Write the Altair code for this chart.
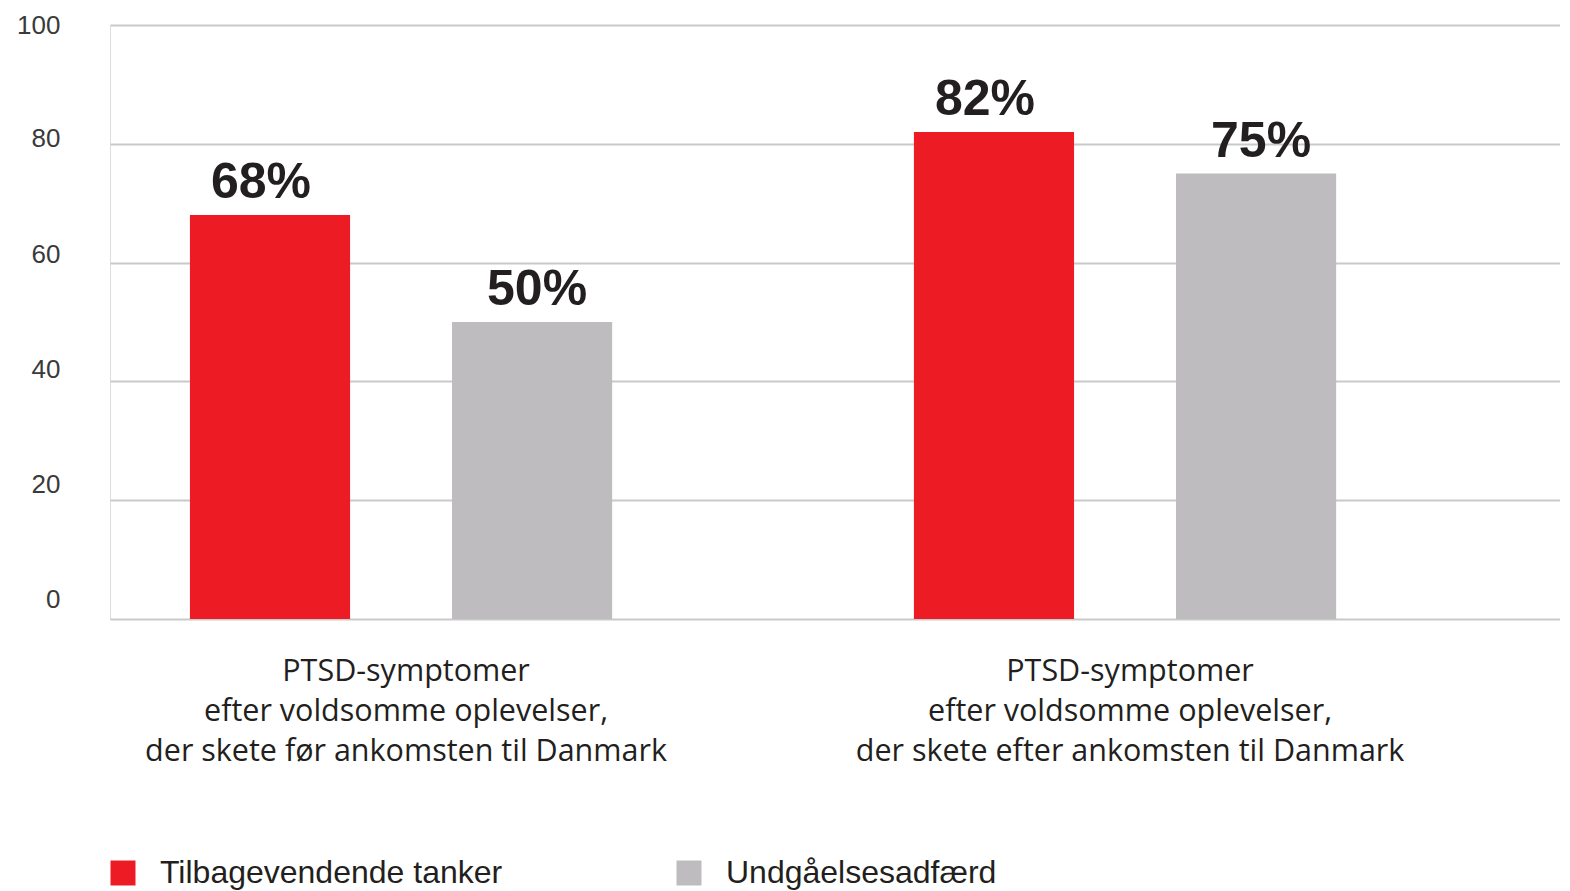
import altair as alt
import pandas as pd

groups = ["PTSD-symptomer|efter voldsomme oplevelser,|der skete før ankomsten til Danmark",
          "PTSD-symptomer|efter voldsomme oplevelser,|der skete efter ankomsten til Danmark"]
series = ["Tilbagevendende tanker", "Undgåelsesadfærd"]
values_red = [68, 82]
values_gray = [50, 75]
colors = ["#ED1C24", "#BEBCBF"]
y_ticks = [0, 20, 40, 60, 80, 100]

rows = []
for g, r, gr in zip(groups, values_red, values_gray):
    rows.append({"group": g, "serie": series[0], "value": r})
    rows.append({"group": g, "serie": series[1], "value": gr})
df = pd.DataFrame(rows)
df["label"] = df["value"].astype(str) + "%"

x_enc = alt.X("group:N", sort=groups, title=None,
              scale=alt.Scale(paddingInner=0.196, paddingOuter=0.0994, align=0),
              axis=alt.Axis(labelExpr="split(datum.label, '|')", labelAngle=0,
                            labelFont="Open Sans", labelFontSize=30.5,
                            labelColor="#231F20", labelLineHeight=40,
                            labelBaseline="top", labelPadding=37, labelOffset=5,
                            ticks=False, tickSize=0, domain=False, grid=False,
                            labelLimit=800))
xo_enc = alt.XOffset("serie:N", sort=series,
                     scale=alt.Scale(paddingInner=0.389, paddingOuter=0.305))
y_enc = alt.Y("value:Q", title=None,
              scale=alt.Scale(domain=[0, 100], nice=False),
              axis=alt.Axis(values=y_ticks, grid=True, gridColor="#C9C9C9",
                            gridWidth=2, domain=False, ticks=False, tickSize=0,
                            labelFont="Liberation Sans", labelFontSize=26,
                            labelColor="#3A3A3A", labelPadding=50,
                            labelOffset={"condition": [
                                {"test": "datum.value == 0", "value": -20},
                                {"test": "datum.value == 20", "value": -16},
                                {"test": "datum.value == 40", "value": -12},
                                {"test": "datum.value == 60", "value": -8},
                                {"test": "datum.value == 80", "value": -5}],
                                "value": 0}))

bars = alt.Chart(df).mark_bar().encode(
    x=x_enc, xOffset=xo_enc, y=y_enc,
    color=alt.Color("serie:N", sort=series,
                    scale=alt.Scale(domain=series, range=colors),
                    legend=alt.Legend(title=None, orient="none", legendX=-3, legendY=832,
                                      direction="horizontal", symbolType="square",
                                      symbolSize=625, symbolStrokeWidth=0,
                                      labelFont="Liberation Sans", labelFontSize=32,
                                      labelColor="#231F20", labelOffset=21,
                                      columnPadding=170, labelLimit=600)),
)

def text_layer(serie, dx):
    return alt.Chart(df).transform_filter(alt.datum.serie == serie).mark_text(
        font="Liberation Sans", fontWeight="bold", fontSize=50, color="#231F20",
        baseline="alphabetic", dy=-17, dx=dx
    ).encode(x=alt.X("group:N", sort=groups),
             xOffset=alt.XOffset("serie:N", sort=series,
                                 scale=alt.Scale(domain=series)),
             y="value:Q", text="label:N")

chart = alt.layer(bars, text_layer(series[0], -9), text_layer(series[1], 5)).properties(
    width=1450, height=594,
    autosize=alt.AutoSizeParams(type="none"),
    padding={"left": 102, "top": 17, "right": 0, "bottom": 272},
).configure_view(stroke=None).configure(background="white")

chart.save("out.html", embed_options={"renderer": "svg", "actions": False})
